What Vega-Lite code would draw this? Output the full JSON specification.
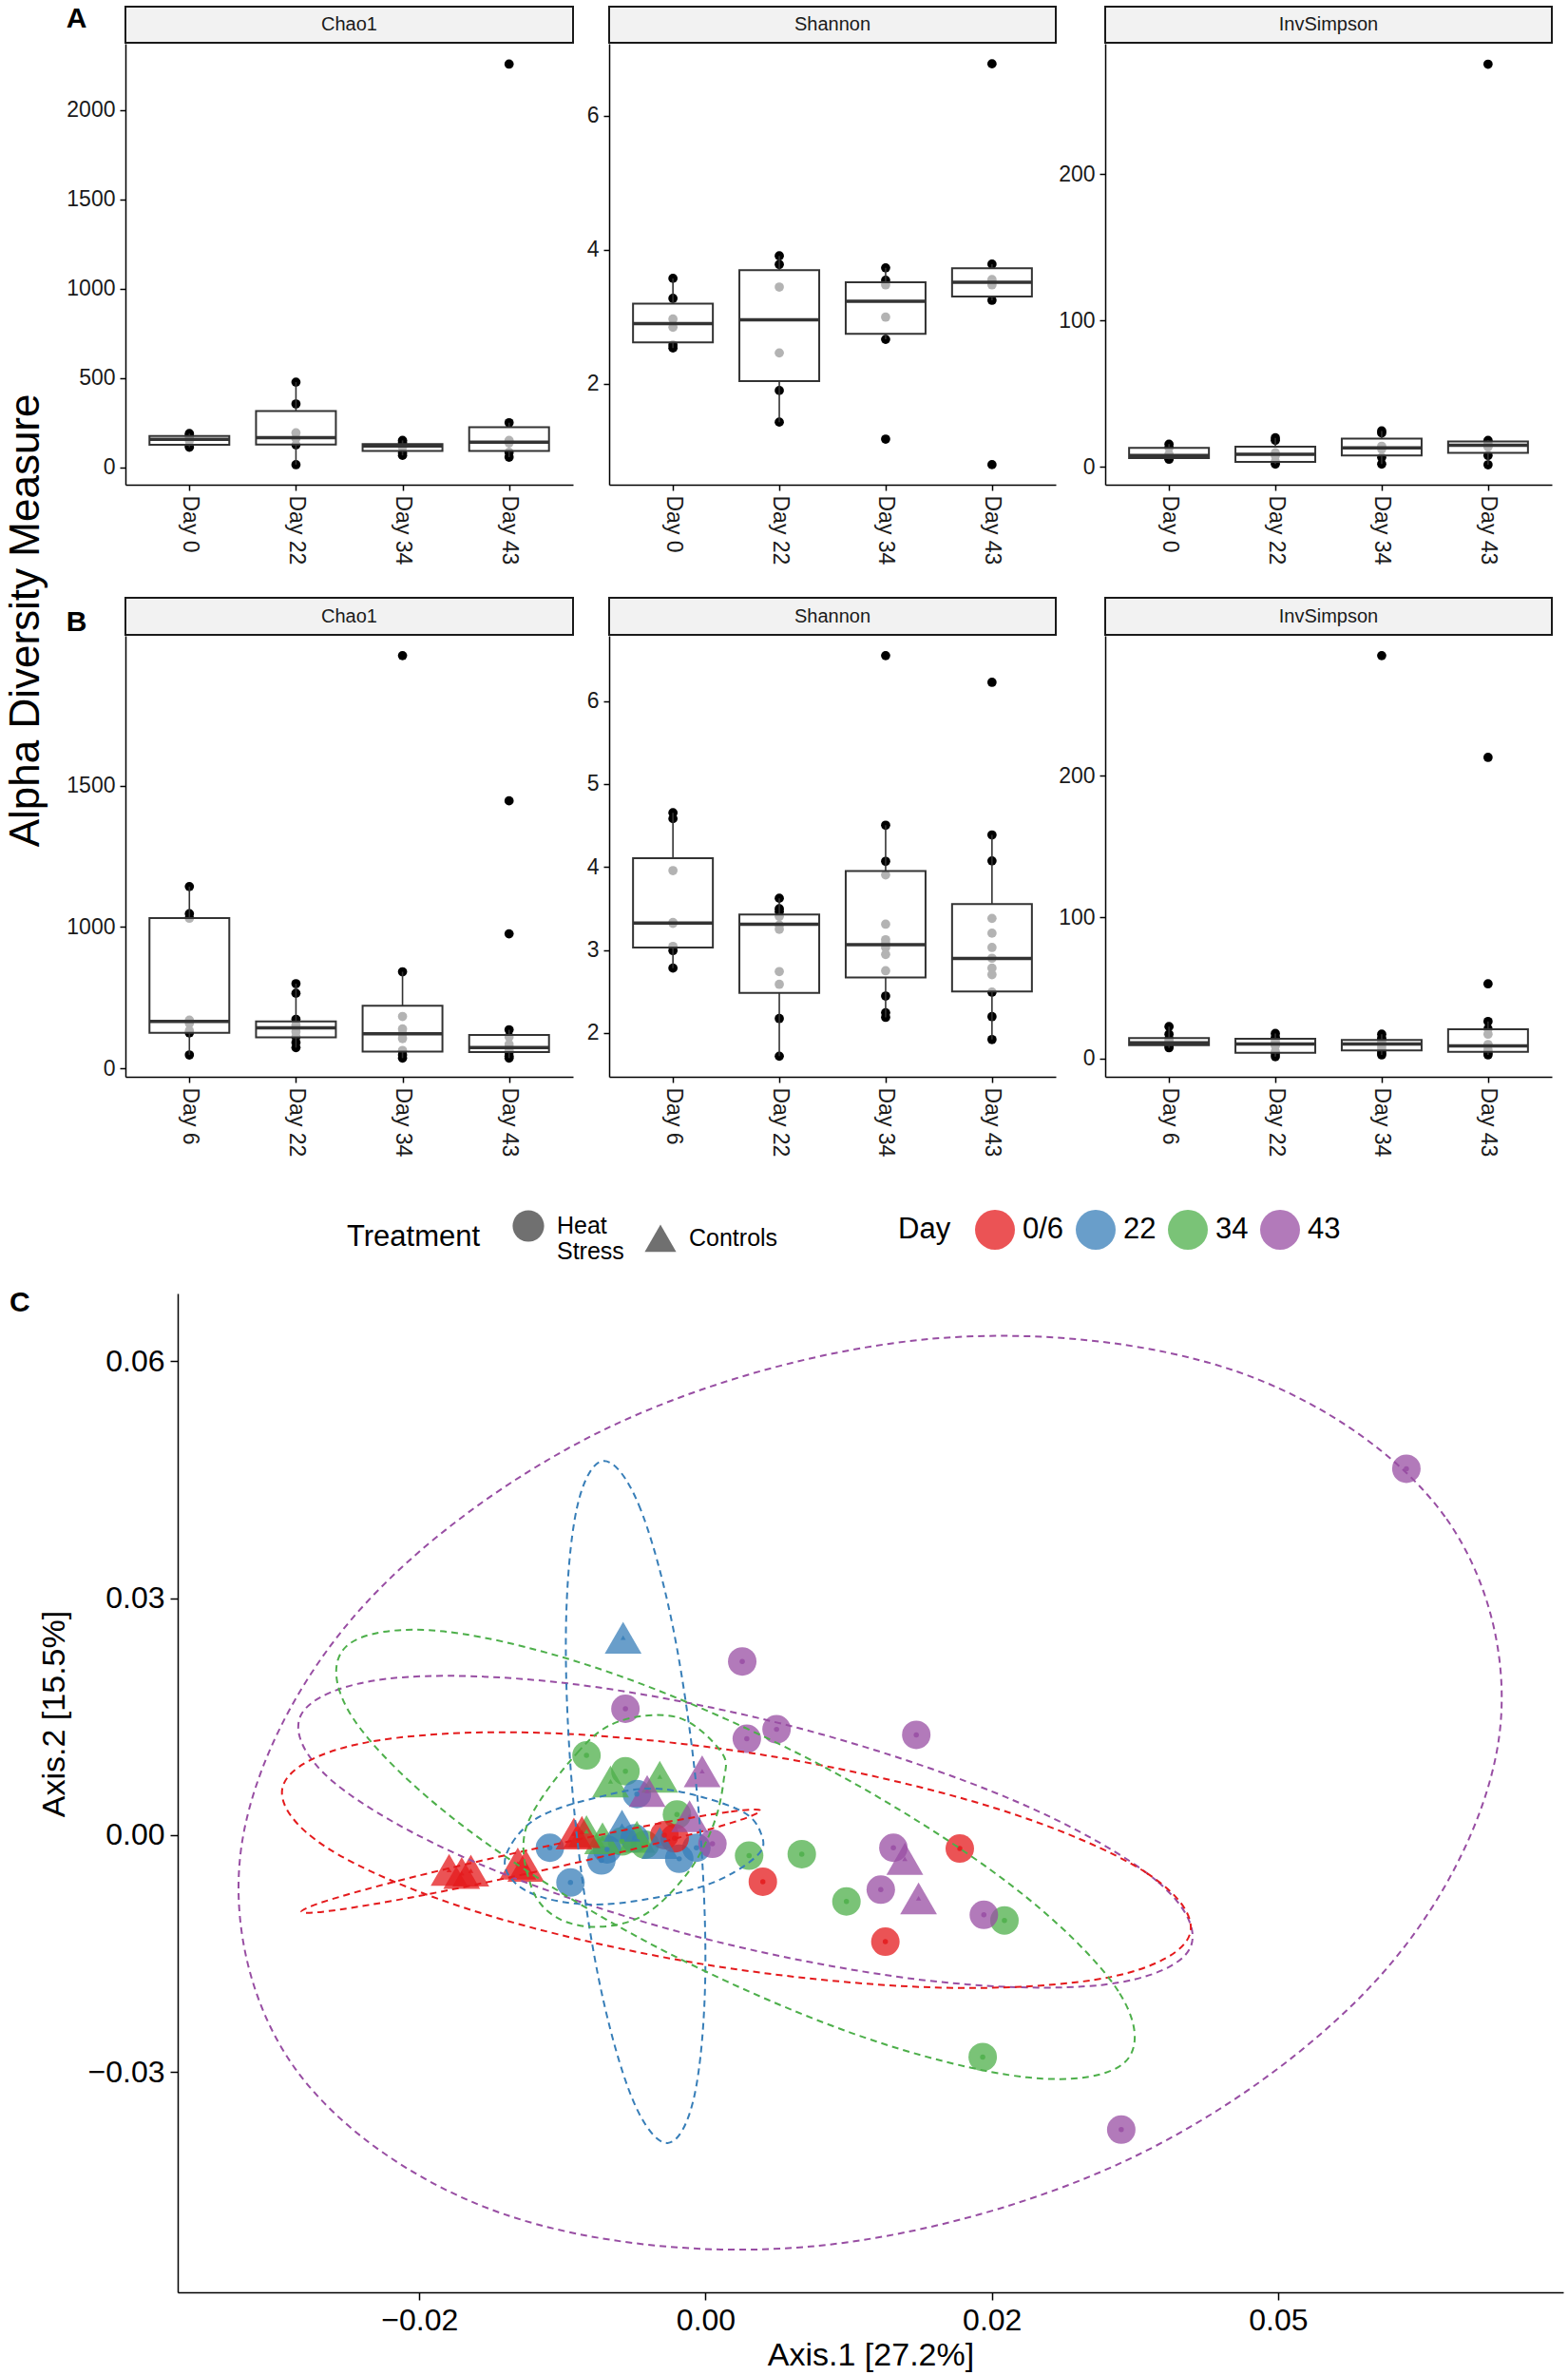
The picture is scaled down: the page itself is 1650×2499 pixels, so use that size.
{
"$schema": "https://vega.github.io/schema/vega-lite/v6.json",
"background": "white",
"padding": 5,
"config": {
  "font": "Liberation Sans",
  "view": {"stroke": null},
  "axis": {"labelFont": "Liberation Sans", "titleFont": "Liberation Sans", "labelColor": "#1a1a1a", "titleColor": "#000", "domainColor": "#000", "tickColor": "#000", "domainWidth": 1.5, "tickWidth": 1.5, "grid": false, "labelFontSize": 23, "titleFontWeight": "normal"},
  "legend": {"labelFont": "Liberation Sans", "titleFont": "Liberation Sans", "labelColor": "#000", "titleColor": "#000", "titleFontWeight": "normal"},
  "title": {"font": "Liberation Sans", "color": "#000"}
},
"datasets": {
  "pts": [
    {"g":"A-Chao1","day":"Day 0","value":113},{"g":"A-Chao1","day":"Day 0","value":122},{"g":"A-Chao1","day":"Day 0","value":150},{"g":"A-Chao1","day":"Day 0","value":162},{"g":"A-Chao1","day":"Day 0","value":178},{"g":"A-Chao1","day":"Day 0","value":189},
    {"g":"A-Chao1","day":"Day 22","value":15},{"g":"A-Chao1","day":"Day 22","value":126},{"g":"A-Chao1","day":"Day 22","value":162},{"g":"A-Chao1","day":"Day 22","value":193},{"g":"A-Chao1","day":"Day 22","value":355},{"g":"A-Chao1","day":"Day 22","value":477},
    {"g":"A-Chao1","day":"Day 34","value":67},{"g":"A-Chao1","day":"Day 34","value":80},{"g":"A-Chao1","day":"Day 34","value":112},{"g":"A-Chao1","day":"Day 34","value":125},{"g":"A-Chao1","day":"Day 34","value":140},{"g":"A-Chao1","day":"Day 34","value":151},
    {"g":"A-Chao1","day":"Day 43","value":57},{"g":"A-Chao1","day":"Day 43","value":84},{"g":"A-Chao1","day":"Day 43","value":137},{"g":"A-Chao1","day":"Day 43","value":151},{"g":"A-Chao1","day":"Day 43","value":250},{"g":"A-Chao1","day":"Day 43","value":2257},
    {"g":"A-Shannon","day":"Day 0","value":2.533},{"g":"A-Shannon","day":"Day 0","value":2.578},{"g":"A-Shannon","day":"Day 0","value":2.842},{"g":"A-Shannon","day":"Day 0","value":2.965},{"g":"A-Shannon","day":"Day 0","value":3.273},{"g":"A-Shannon","day":"Day 0","value":3.571},
    {"g":"A-Shannon","day":"Day 22","value":1.428},{"g":"A-Shannon","day":"Day 22","value":1.899},{"g":"A-Shannon","day":"Day 22","value":2.46},{"g":"A-Shannon","day":"Day 22","value":3.442},{"g":"A-Shannon","day":"Day 22","value":3.778},{"g":"A-Shannon","day":"Day 22","value":3.907},
    {"g":"A-Shannon","day":"Day 34","value":1.175},{"g":"A-Shannon","day":"Day 34","value":2.662},{"g":"A-Shannon","day":"Day 34","value":2.993},{"g":"A-Shannon","day":"Day 34","value":3.475},{"g":"A-Shannon","day":"Day 34","value":3.543},{"g":"A-Shannon","day":"Day 34","value":3.728},
    {"g":"A-Shannon","day":"Day 43","value":0.794},{"g":"A-Shannon","day":"Day 43","value":3.245},{"g":"A-Shannon","day":"Day 43","value":3.475},{"g":"A-Shannon","day":"Day 43","value":3.554},{"g":"A-Shannon","day":"Day 43","value":3.784},{"g":"A-Shannon","day":"Day 43","value":6.77},
    {"g":"A-InvSimpson","day":"Day 0","value":5.1},{"g":"A-InvSimpson","day":"Day 0","value":5.6},{"g":"A-InvSimpson","day":"Day 0","value":7.2},{"g":"A-InvSimpson","day":"Day 0","value":8.5},{"g":"A-InvSimpson","day":"Day 0","value":13},{"g":"A-InvSimpson","day":"Day 0","value":15.4},
    {"g":"A-InvSimpson","day":"Day 22","value":1.8},{"g":"A-InvSimpson","day":"Day 22","value":3.5},{"g":"A-InvSimpson","day":"Day 22","value":7.5},{"g":"A-InvSimpson","day":"Day 22","value":9.5},{"g":"A-InvSimpson","day":"Day 22","value":18},{"g":"A-InvSimpson","day":"Day 22","value":19.7},
    {"g":"A-InvSimpson","day":"Day 34","value":1.8},{"g":"A-InvSimpson","day":"Day 34","value":6.4},{"g":"A-InvSimpson","day":"Day 34","value":12},{"g":"A-InvSimpson","day":"Day 34","value":14},{"g":"A-InvSimpson","day":"Day 34","value":23},{"g":"A-InvSimpson","day":"Day 34","value":24.4},
    {"g":"A-InvSimpson","day":"Day 43","value":1.3},{"g":"A-InvSimpson","day":"Day 43","value":7.7},{"g":"A-InvSimpson","day":"Day 43","value":13.5},{"g":"A-InvSimpson","day":"Day 43","value":15.7},{"g":"A-InvSimpson","day":"Day 43","value":18},{"g":"A-InvSimpson","day":"Day 43","value":275},
    {"g":"B-Chao1","day":"Day 6","value":548},{"g":"B-Chao1","day":"Day 6","value":626},{"g":"B-Chao1","day":"Day 6","value":633},{"g":"B-Chao1","day":"Day 6","value":660},{"g":"B-Chao1","day":"Day 6","value":671},{"g":"B-Chao1","day":"Day 6","value":1031},{"g":"B-Chao1","day":"Day 6","value":1047},{"g":"B-Chao1","day":"Day 6","value":1143},
    {"g":"B-Chao1","day":"Day 22","value":574},{"g":"B-Chao1","day":"Day 22","value":592},{"g":"B-Chao1","day":"Day 22","value":612},{"g":"B-Chao1","day":"Day 22","value":630},{"g":"B-Chao1","day":"Day 22","value":645},{"g":"B-Chao1","day":"Day 22","value":654},{"g":"B-Chao1","day":"Day 22","value":674},{"g":"B-Chao1","day":"Day 22","value":766},{"g":"B-Chao1","day":"Day 22","value":800},
    {"g":"B-Chao1","day":"Day 34","value":537},{"g":"B-Chao1","day":"Day 34","value":548},{"g":"B-Chao1","day":"Day 34","value":564},{"g":"B-Chao1","day":"Day 34","value":606},{"g":"B-Chao1","day":"Day 34","value":623},{"g":"B-Chao1","day":"Day 34","value":640},{"g":"B-Chao1","day":"Day 34","value":684},{"g":"B-Chao1","day":"Day 34","value":842},{"g":"B-Chao1","day":"Day 34","value":1959},
    {"g":"B-Chao1","day":"Day 43","value":537},{"g":"B-Chao1","day":"Day 43","value":544},{"g":"B-Chao1","day":"Day 43","value":558},{"g":"B-Chao1","day":"Day 43","value":564},{"g":"B-Chao1","day":"Day 43","value":574},{"g":"B-Chao1","day":"Day 43","value":585},{"g":"B-Chao1","day":"Day 43","value":612},{"g":"B-Chao1","day":"Day 43","value":637},{"g":"B-Chao1","day":"Day 43","value":976},{"g":"B-Chao1","day":"Day 43","value":1446},
    {"g":"B-Shannon","day":"Day 6","value":2.781},{"g":"B-Shannon","day":"Day 6","value":2.992},{"g":"B-Shannon","day":"Day 6","value":3.043},{"g":"B-Shannon","day":"Day 6","value":3.32},{"g":"B-Shannon","day":"Day 6","value":3.33},{"g":"B-Shannon","day":"Day 6","value":3.956},{"g":"B-Shannon","day":"Day 6","value":4.582},{"g":"B-Shannon","day":"Day 6","value":4.653},
    {"g":"B-Shannon","day":"Day 22","value":1.719},{"g":"B-Shannon","day":"Day 22","value":2.173},{"g":"B-Shannon","day":"Day 22","value":2.585},{"g":"B-Shannon","day":"Day 22","value":2.739},{"g":"B-Shannon","day":"Day 22","value":3.249},{"g":"B-Shannon","day":"Day 22","value":3.3},{"g":"B-Shannon","day":"Day 22","value":3.404},{"g":"B-Shannon","day":"Day 22","value":3.46},{"g":"B-Shannon","day":"Day 22","value":3.497},{"g":"B-Shannon","day":"Day 22","value":3.623},
    {"g":"B-Shannon","day":"Day 34","value":2.187},{"g":"B-Shannon","day":"Day 34","value":2.243},{"g":"B-Shannon","day":"Day 34","value":2.444},{"g":"B-Shannon","day":"Day 34","value":2.749},{"g":"B-Shannon","day":"Day 34","value":2.945},{"g":"B-Shannon","day":"Day 34","value":3.029},{"g":"B-Shannon","day":"Day 34","value":3.08},{"g":"B-Shannon","day":"Day 34","value":3.123},{"g":"B-Shannon","day":"Day 34","value":3.31},{"g":"B-Shannon","day":"Day 34","value":3.904},{"g":"B-Shannon","day":"Day 34","value":4.068},{"g":"B-Shannon","day":"Day 34","value":4.503},{"g":"B-Shannon","day":"Day 34","value":6.547},
    {"g":"B-Shannon","day":"Day 43","value":1.92},{"g":"B-Shannon","day":"Day 43","value":2.196},{"g":"B-Shannon","day":"Day 43","value":2.491},{"g":"B-Shannon","day":"Day 43","value":2.702},{"g":"B-Shannon","day":"Day 43","value":2.781},{"g":"B-Shannon","day":"Day 43","value":2.9},{"g":"B-Shannon","day":"Day 43","value":3.029},{"g":"B-Shannon","day":"Day 43","value":3.202},{"g":"B-Shannon","day":"Day 43","value":3.38},{"g":"B-Shannon","day":"Day 43","value":4.073},{"g":"B-Shannon","day":"Day 43","value":4.386},{"g":"B-Shannon","day":"Day 43","value":6.225},
    {"g":"B-InvSimpson","day":"Day 6","value":7.7},{"g":"B-InvSimpson","day":"Day 6","value":9},{"g":"B-InvSimpson","day":"Day 6","value":10.5},{"g":"B-InvSimpson","day":"Day 6","value":11.5},{"g":"B-InvSimpson","day":"Day 6","value":12},{"g":"B-InvSimpson","day":"Day 6","value":14},{"g":"B-InvSimpson","day":"Day 6","value":17.3},{"g":"B-InvSimpson","day":"Day 6","value":22.7},
    {"g":"B-InvSimpson","day":"Day 22","value":1.4},{"g":"B-InvSimpson","day":"Day 22","value":3.5},{"g":"B-InvSimpson","day":"Day 22","value":5},{"g":"B-InvSimpson","day":"Day 22","value":9},{"g":"B-InvSimpson","day":"Day 22","value":10.4},{"g":"B-InvSimpson","day":"Day 22","value":12},{"g":"B-InvSimpson","day":"Day 22","value":14},{"g":"B-InvSimpson","day":"Day 22","value":15},{"g":"B-InvSimpson","day":"Day 22","value":17.8},
    {"g":"B-InvSimpson","day":"Day 34","value":2.7},{"g":"B-InvSimpson","day":"Day 34","value":4},{"g":"B-InvSimpson","day":"Day 34","value":5.8},{"g":"B-InvSimpson","day":"Day 34","value":8},{"g":"B-InvSimpson","day":"Day 34","value":10.4},{"g":"B-InvSimpson","day":"Day 34","value":11},{"g":"B-InvSimpson","day":"Day 34","value":13},{"g":"B-InvSimpson","day":"Day 34","value":14.5},{"g":"B-InvSimpson","day":"Day 34","value":17.3},{"g":"B-InvSimpson","day":"Day 34","value":285},
    {"g":"B-InvSimpson","day":"Day 43","value":2.7},{"g":"B-InvSimpson","day":"Day 43","value":4},{"g":"B-InvSimpson","day":"Day 43","value":6},{"g":"B-InvSimpson","day":"Day 43","value":9},{"g":"B-InvSimpson","day":"Day 43","value":10},{"g":"B-InvSimpson","day":"Day 43","value":17.3},{"g":"B-InvSimpson","day":"Day 43","value":21},{"g":"B-InvSimpson","day":"Day 43","value":26.3},{"g":"B-InvSimpson","day":"Day 43","value":52.9},{"g":"B-InvSimpson","day":"Day 43","value":213}
  ],
  "box": [
    {"g":"A-Chao1","day":"Day 0","lower":113,"q1":126,"median":157,"q3":176,"upper":189},
    {"g":"A-Chao1","day":"Day 22","lower":15,"q1":128,"median":166,"q3":315,"upper":477},
    {"g":"A-Chao1","day":"Day 34","lower":67,"q1":92,"median":120,"q3":130,"upper":151},
    {"g":"A-Chao1","day":"Day 43","lower":57,"q1":92,"median":141,"q3":225,"upper":250},
    {"g":"A-Shannon","day":"Day 0","lower":2.533,"q1":2.617,"median":2.898,"q3":3.195,"upper":3.571},
    {"g":"A-Shannon","day":"Day 22","lower":1.428,"q1":2.039,"median":2.954,"q3":3.694,"upper":3.907},
    {"g":"A-Shannon","day":"Day 34","lower":2.662,"q1":2.746,"median":3.229,"q3":3.515,"upper":3.728},
    {"g":"A-Shannon","day":"Day 43","lower":3.245,"q1":3.3,"median":3.515,"q3":3.722,"upper":3.784},
    {"g":"A-InvSimpson","day":"Day 0","lower":5.1,"q1":5.9,"median":7.7,"q3":12.8,"upper":15.4},
    {"g":"A-InvSimpson","day":"Day 22","lower":1.8,"q1":3.3,"median":8.5,"q3":13.6,"upper":19.7},
    {"g":"A-InvSimpson","day":"Day 34","lower":1.8,"q1":7.7,"median":12.8,"q3":19.2,"upper":24.4},
    {"g":"A-InvSimpson","day":"Day 43","lower":1.3,"q1":9.5,"median":14.6,"q3":17.2,"upper":18},
    {"g":"B-Chao1","day":"Day 6","lower":548,"q1":626,"median":667,"q3":1032,"upper":1143},
    {"g":"B-Chao1","day":"Day 22","lower":574,"q1":610,"median":644,"q3":667,"upper":800},
    {"g":"B-Chao1","day":"Day 34","lower":537,"q1":560,"median":623,"q3":722,"upper":842},
    {"g":"B-Chao1","day":"Day 43","lower":537,"q1":558,"median":574,"q3":619,"upper":637},
    {"g":"B-Shannon","day":"Day 6","lower":2.781,"q1":3.029,"median":3.324,"q3":4.105,"upper":4.653},
    {"g":"B-Shannon","day":"Day 22","lower":1.719,"q1":2.482,"median":3.31,"q3":3.427,"upper":3.623},
    {"g":"B-Shannon","day":"Day 34","lower":2.187,"q1":2.669,"median":3.062,"q3":3.951,"upper":4.503},
    {"g":"B-Shannon","day":"Day 43","lower":1.92,"q1":2.5,"median":2.898,"q3":3.553,"upper":4.386},
    {"g":"B-InvSimpson","day":"Day 6","lower":7.7,"q1":9.6,"median":11.2,"q3":14.5,"upper":22.7},
    {"g":"B-InvSimpson","day":"Day 22","lower":1.4,"q1":4.1,"median":10.4,"q3":14,"upper":17.8},
    {"g":"B-InvSimpson","day":"Day 34","lower":2.7,"q1":5.8,"median":10.4,"q3":13.2,"upper":17.3},
    {"g":"B-InvSimpson","day":"Day 43","lower":2.7,"q1":4.9,"median":9,"q3":20.8,"upper":26.3}
  ],
  "pc": [
    {"x":-0.0104,"y":0.0101,"day":"34","trt":"Heat Stress"},{"x":-0.0070,"y":0.0081,"day":"34","trt":"Heat Stress"},{"x":-0.0025,"y":0.0026,"day":"34","trt":"Heat Stress"},{"x":0.0038,"y":-0.0026,"day":"34","trt":"Heat Stress"},{"x":0.0084,"y":-0.0024,"day":"34","trt":"Heat Stress"},{"x":0.0123,"y":-0.0084,"day":"34","trt":"Heat Stress"},{"x":0.0261,"y":-0.0108,"day":"34","trt":"Heat Stress"},{"x":0.0242,"y":-0.0281,"day":"34","trt":"Heat Stress"},{"x":-0.0053,"y":-0.0012,"day":"34","trt":"Heat Stress"},{"x":-0.0073,"y":-0.0008,"day":"34","trt":"Heat Stress"},
    {"x":-0.0083,"y":0.0068,"day":"34","trt":"Controls"},{"x":-0.0040,"y":0.0074,"day":"34","trt":"Controls"},{"x":-0.0104,"y":0.0005,"day":"34","trt":"Controls"},{"x":-0.0090,"y":-0.0004,"day":"34","trt":"Controls"},{"x":-0.0060,"y":-0.0002,"day":"34","trt":"Controls"},
    {"x":-0.0136,"y":-0.0016,"day":"22","trt":"Heat Stress"},{"x":-0.0086,"y":-0.0018,"day":"22","trt":"Heat Stress"},{"x":-0.0091,"y":-0.0032,"day":"22","trt":"Heat Stress"},{"x":-0.0062,"y":-0.0004,"day":"22","trt":"Heat Stress"},{"x":-0.0023,"y":-0.0030,"day":"22","trt":"Heat Stress"},{"x":-0.0008,"y":-0.0016,"day":"22","trt":"Heat Stress"},{"x":-0.0118,"y":-0.0060,"day":"22","trt":"Heat Stress"},{"x":-0.0060,"y":0.0052,"day":"22","trt":"Heat Stress"},
    {"x":-0.0072,"y":0.0250,"day":"22","trt":"Controls"},{"x":-0.0073,"y":0.0012,"day":"22","trt":"Controls"},{"x":-0.0040,"y":-0.0010,"day":"22","trt":"Controls"},
    {"x":-0.0036,"y":0.0000,"day":"0/6","trt":"Heat Stress"},{"x":-0.0027,"y":-0.0004,"day":"0/6","trt":"Heat Stress"},{"x":0.0050,"y":-0.0059,"day":"0/6","trt":"Heat Stress"},{"x":0.0222,"y":-0.0017,"day":"0/6","trt":"Heat Stress"},{"x":0.0157,"y":-0.0135,"day":"0/6","trt":"Heat Stress"},
    {"x":-0.0224,"y":-0.0044,"day":"0/6","trt":"Controls"},{"x":-0.0213,"y":-0.0048,"day":"0/6","trt":"Controls"},{"x":-0.0205,"y":-0.0045,"day":"0/6","trt":"Controls"},{"x":-0.0164,"y":-0.0036,"day":"0/6","trt":"Controls"},{"x":-0.0157,"y":-0.0039,"day":"0/6","trt":"Controls"},{"x":-0.0115,"y":0.0002,"day":"0/6","trt":"Controls"},{"x":-0.0108,"y":0.0004,"day":"0/6","trt":"Controls"},
    {"x":0.0612,"y":0.0464,"day":"43","trt":"Heat Stress"},{"x":0.0032,"y":0.0220,"day":"43","trt":"Heat Stress"},{"x":-0.0070,"y":0.0160,"day":"43","trt":"Heat Stress"},{"x":0.0062,"y":0.0134,"day":"43","trt":"Heat Stress"},{"x":0.0036,"y":0.0122,"day":"43","trt":"Heat Stress"},{"x":0.0184,"y":0.0127,"day":"43","trt":"Heat Stress"},{"x":0.0164,"y":-0.0016,"day":"43","trt":"Heat Stress"},{"x":0.0153,"y":-0.0069,"day":"43","trt":"Heat Stress"},{"x":0.0243,"y":-0.0101,"day":"43","trt":"Heat Stress"},{"x":0.0363,"y":-0.0373,"day":"43","trt":"Heat Stress"},{"x":0.0006,"y":-0.0011,"day":"43","trt":"Heat Stress"},
    {"x":-0.0003,"y":0.0081,"day":"43","trt":"Controls"},{"x":-0.0051,"y":0.0056,"day":"43","trt":"Controls"},{"x":-0.0014,"y":0.0024,"day":"43","trt":"Controls"},{"x":0.0174,"y":-0.0030,"day":"43","trt":"Controls"},{"x":0.0186,"y":-0.0080,"day":"43","trt":"Controls"}
  ],
  "ell": [
    {"eid":"p1","day":"43","t":0,"x":0.06931,"y":0.01255},{"eid":"p1","day":"43","t":1,"x":0.06457,"y":0.04033},{"eid":"p1","day":"43","t":2,"x":0.04637,"y":0.05873},{"eid":"p1","day":"43","t":3,"x":0.0196,"y":0.06284},{"eid":"p1","day":"43","t":4,"x":-0.00857,"y":0.05155},{"eid":"p1","day":"43","t":5,"x":-0.03059,"y":0.02789},{"eid":"p1","day":"43","t":6,"x":-0.04057,"y":-0.00181},{"eid":"p1","day":"43","t":7,"x":-0.03583,"y":-0.02959},{"eid":"p1","day":"43","t":8,"x":-0.01763,"y":-0.04799},{"eid":"p1","day":"43","t":9,"x":0.00914,"y":-0.0521},{"eid":"p1","day":"43","t":10,"x":0.03731,"y":-0.04081},{"eid":"p1","day":"43","t":11,"x":0.05933,"y":-0.01715},
    {"eid":"p2","day":"43","t":0,"x":0.04228,"y":-0.01439},{"eid":"p2","day":"43","t":1,"x":0.03944,"y":-0.00585},{"eid":"p2","day":"43","t":2,"x":0.02697,"y":0.00436},{"eid":"p2","day":"43","t":3,"x":0.0082,"y":0.01353},{"eid":"p2","day":"43","t":4,"x":-0.01183,"y":0.01918},{"eid":"p2","day":"43","t":5,"x":-0.02776,"y":0.01981},{"eid":"p2","day":"43","t":6,"x":-0.03532,"y":0.01525},{"eid":"p2","day":"43","t":7,"x":-0.03248,"y":0.00671},{"eid":"p2","day":"43","t":8,"x":-0.02001,"y":-0.0035},{"eid":"p2","day":"43","t":9,"x":-0.00124,"y":-0.01267},{"eid":"p2","day":"43","t":10,"x":0.01879,"y":-0.01832},{"eid":"p2","day":"43","t":11,"x":0.03472,"y":-0.01895},
    {"eid":"r1","day":"0/6","t":0,"x":0.04228,"y":-0.01259},{"eid":"r1","day":"0/6","t":1,"x":0.03846,"y":-0.00474},{"eid":"r1","day":"0/6","t":2,"x":0.02505,"y":0.00353},{"eid":"r1","day":"0/6","t":3,"x":0.00565,"y":0.01001},{"eid":"r1","day":"0/6","t":4,"x":-0.01455,"y":0.01297},{"eid":"r1","day":"0/6","t":5,"x":-0.03012,"y":0.0116},{"eid":"r1","day":"0/6","t":6,"x":-0.0369,"y":0.00627},{"eid":"r1","day":"0/6","t":7,"x":-0.03308,"y":-0.00158},{"eid":"r1","day":"0/6","t":8,"x":-0.01967,"y":-0.00985},{"eid":"r1","day":"0/6","t":9,"x":-0.00027,"y":-0.01633},{"eid":"r1","day":"0/6","t":10,"x":0.01993,"y":-0.01929},{"eid":"r1","day":"0/6","t":11,"x":0.0355,"y":-0.01792},
    {"eid":"r2","day":"0/6","t":0,"x":0.0048,"y":0.0031},{"eid":"r2","day":"0/6","t":1,"x":0.00201,"y":0.00294},{"eid":"r2","day":"0/6","t":2,"x":-0.0054,"y":0.00112},{"eid":"r2","day":"0/6","t":3,"x":-0.01546,"y":-0.00189},{"eid":"r2","day":"0/6","t":4,"x":-0.02546,"y":-0.00528},{"eid":"r2","day":"0/6","t":5,"x":-0.03271,"y":-0.00814},{"eid":"r2","day":"0/6","t":6,"x":-0.0353,"y":-0.0097},{"eid":"r2","day":"0/6","t":7,"x":-0.03251,"y":-0.00954},{"eid":"r2","day":"0/6","t":8,"x":-0.0251,"y":-0.00772},{"eid":"r2","day":"0/6","t":9,"x":-0.01504,"y":-0.00471},{"eid":"r2","day":"0/6","t":10,"x":-0.00504,"y":-0.00132},{"eid":"r2","day":"0/6","t":11,"x":0.00221,"y":0.00154},
    {"eid":"b2","day":"22","t":0,"x":-0.0089,"y":0.04739},{"eid":"b2","day":"22","t":1,"x":-0.00582,"y":0.04178},{"eid":"b2","day":"22","t":2,"x":-0.00282,"y":0.02611},{"eid":"b2","day":"22","t":3,"x":-0.0007,"y":0.00456},{"eid":"b2","day":"22","t":4,"x":-0.00002,"y":-0.01709},{"eid":"b2","day":"22","t":5,"x":-0.00098,"y":-0.03302},{"eid":"b2","day":"22","t":6,"x":-0.00332,"y":-0.03899},{"eid":"b2","day":"22","t":7,"x":-0.0064,"y":-0.03338},{"eid":"b2","day":"22","t":8,"x":-0.0094,"y":-0.01771},{"eid":"b2","day":"22","t":9,"x":-0.01152,"y":0.00384},{"eid":"b2","day":"22","t":10,"x":-0.0122,"y":0.02549},{"eid":"b2","day":"22","t":11,"x":-0.01124,"y":0.04142},
    {"eid":"b1","day":"22","t":0,"x":-0.01748,"y":-0.00281},{"eid":"b1","day":"22","t":1,"x":-0.01487,"y":0.00202},{"eid":"b1","day":"22","t":2,"x":-0.00932,"y":0.00483},{"eid":"b1","day":"22","t":3,"x":-0.00378,"y":0.00584},{"eid":"b1","day":"22","t":4,"x":0.00288,"y":0.00323},{"eid":"b1","day":"22","t":5,"x":0.00489,"y":0.00001},{"eid":"b1","day":"22","t":6,"x":0.00436,"y":-0.00279},{"eid":"b1","day":"22","t":7,"x":-0.00008,"y":-0.0064},{"eid":"b1","day":"22","t":8,"x":-0.00747,"y":-0.0086},{"eid":"b1","day":"22","t":9,"x":-0.01268,"y":-0.00841},{"eid":"b1","day":"22","t":10,"x":-0.01636,"y":-0.0064},
    {"eid":"g1","day":"34","t":0,"x":0.03662,"y":-0.02875},{"eid":"g1","day":"34","t":1,"x":0.03604,"y":-0.01976},{"eid":"g1","day":"34","t":2,"x":0.02651,"y":-0.00615},{"eid":"g1","day":"34","t":3,"x":0.01057,"y":0.00847},{"eid":"g1","day":"34","t":4,"x":-0.00751,"y":0.02017},{"eid":"g1","day":"34","t":5,"x":-0.02286,"y":0.0258},{"eid":"g1","day":"34","t":6,"x":-0.0314,"y":0.02387},{"eid":"g1","day":"34","t":7,"x":-0.03082,"y":0.01488},{"eid":"g1","day":"34","t":8,"x":-0.02129,"y":0.00127},{"eid":"g1","day":"34","t":9,"x":-0.00535,"y":-0.01335},{"eid":"g1","day":"34","t":10,"x":0.01273,"y":-0.02505},{"eid":"g1","day":"34","t":11,"x":0.02808,"y":-0.03068},
    {"eid":"g2","day":"34","t":0,"x":-0.01561,"y":0.00122},{"eid":"g2","day":"34","t":1,"x":-0.01119,"y":0.01045},{"eid":"g2","day":"34","t":2,"x":-0.00747,"y":0.01445},{"eid":"g2","day":"34","t":3,"x":-0.00232,"y":0.01486},{"eid":"g2","day":"34","t":4,"x":0.00141,"y":0.01045},{"eid":"g2","day":"34","t":5,"x":0.00157,"y":0.00684},{"eid":"g2","day":"34","t":6,"x":0.00066,"y":0.00122},{"eid":"g2","day":"34","t":7,"x":-0.00157,"y":-0.0048},{"eid":"g2","day":"34","t":8,"x":-0.00525,"y":-0.01001},{"eid":"g2","day":"34","t":9,"x":-0.00932,"y":-0.01161},{"eid":"g2","day":"34","t":10,"x":-0.01303,"y":-0.01041},{"eid":"g2","day":"34","t":11,"x":-0.01525,"y":-0.0064}
  ]
},
"concat": [
  {
    "vconcat": [
      {
        "title": {"text": "A", "anchor": "start", "frame": "bounds", "fontSize": 30, "fontWeight": "bold", "baseline": "alphabetic", "offset": -53},
        "hconcat": [
          {
            "hconcat": [
              {"vconcat": [
                {"width": 471, "height": 38, "view": {"fill": "#f2f2f2", "stroke": "#1a1a1a", "strokeWidth": 2}, "data": {"values": [{"label": "Chao1"}]}, "mark": {"type": "text", "fontSize": 20, "color": "#1a1a1a"}, "encoding": {"text": {"field": "label", "type": "nominal"}}},
                {"width": 471, "height": 464, "layer": [
                  {"data": {"name": "pts"}, "transform": [{"filter": "datum.g == 'A-Chao1'"}], "mark": {"type": "circle", "size": 95, "color": "#000", "opacity": 1},
                   "encoding": {"x": {"field": "day", "type": "nominal", "scale": {"type": "point", "padding": 0.6, "domain": ["Day 0", "Day 22", "Day 34", "Day 43"]}, "axis": {"title": null, "labelAngle": 90, "tickSize": 6, "labelPadding": 5}},
                                "y": {"field": "value", "type": "quantitative", "scale": {"domain": [-97, 2371], "nice": false, "zero": false}, "axis": {"title": null, "values": [0, 500, 1000, 1500, 2000], "format": "d", "tickSize": 6, "labelPadding": 5}}}},
                  {"data": {"name": "box"}, "transform": [{"filter": "datum.g == 'A-Chao1'"}], "mark": {"type": "rule", "color": "#333", "strokeWidth": 1.6}, "encoding": {"x": {"field": "day", "type": "nominal"}, "y": {"field": "lower", "type": "quantitative"}, "y2": {"field": "q1"}}},
                  {"data": {"name": "box"}, "transform": [{"filter": "datum.g == 'A-Chao1'"}], "mark": {"type": "rule", "color": "#333", "strokeWidth": 1.6}, "encoding": {"x": {"field": "day", "type": "nominal"}, "y": {"field": "q3", "type": "quantitative"}, "y2": {"field": "upper"}}},
                  {"data": {"name": "box"}, "transform": [{"filter": "datum.g == 'A-Chao1'"}], "mark": {"type": "bar", "width": 84, "fill": "#fff", "fillOpacity": 0.7, "stroke": "#333", "strokeWidth": 2}, "encoding": {"x": {"field": "day", "type": "nominal"}, "y": {"field": "q1", "type": "quantitative"}, "y2": {"field": "q3"}}},
                  {"data": {"name": "box"}, "transform": [{"filter": "datum.g == 'A-Chao1'"}], "mark": {"type": "tick", "size": 84, "thickness": 3.5, "color": "#333", "opacity": 1}, "encoding": {"x": {"field": "day", "type": "nominal"}, "y": {"field": "median", "type": "quantitative"}}}
                ]}
              ], "spacing": 0},
              {"vconcat": [
                {"width": 470, "height": 38, "view": {"fill": "#f2f2f2", "stroke": "#1a1a1a", "strokeWidth": 2}, "data": {"values": [{"label": "Shannon"}]}, "mark": {"type": "text", "fontSize": 20, "color": "#1a1a1a"}, "encoding": {"text": {"field": "label", "type": "nominal"}}},
                {"width": 470, "height": 464, "layer": [
                  {"data": {"name": "pts"}, "transform": [{"filter": "datum.g == 'A-Shannon'"}], "mark": {"type": "circle", "size": 95, "color": "#000", "opacity": 1},
                   "encoding": {"x": {"field": "day", "type": "nominal", "scale": {"type": "point", "padding": 0.6, "domain": ["Day 0", "Day 22", "Day 34", "Day 43"]}, "axis": {"title": null, "labelAngle": 90, "tickSize": 6, "labelPadding": 5}},
                                "y": {"field": "value", "type": "quantitative", "scale": {"domain": [0.495, 7.07], "nice": false, "zero": false}, "axis": {"title": null, "values": [2, 4, 6], "format": "d", "tickSize": 6, "labelPadding": 5}}}},
                  {"data": {"name": "box"}, "transform": [{"filter": "datum.g == 'A-Shannon'"}], "mark": {"type": "rule", "color": "#333", "strokeWidth": 1.6}, "encoding": {"x": {"field": "day", "type": "nominal"}, "y": {"field": "lower", "type": "quantitative"}, "y2": {"field": "q1"}}},
                  {"data": {"name": "box"}, "transform": [{"filter": "datum.g == 'A-Shannon'"}], "mark": {"type": "rule", "color": "#333", "strokeWidth": 1.6}, "encoding": {"x": {"field": "day", "type": "nominal"}, "y": {"field": "q3", "type": "quantitative"}, "y2": {"field": "upper"}}},
                  {"data": {"name": "box"}, "transform": [{"filter": "datum.g == 'A-Shannon'"}], "mark": {"type": "bar", "width": 84, "fill": "#fff", "fillOpacity": 0.7, "stroke": "#333", "strokeWidth": 2}, "encoding": {"x": {"field": "day", "type": "nominal"}, "y": {"field": "q1", "type": "quantitative"}, "y2": {"field": "q3"}}},
                  {"data": {"name": "box"}, "transform": [{"filter": "datum.g == 'A-Shannon'"}], "mark": {"type": "tick", "size": 84, "thickness": 3.5, "color": "#333", "opacity": 1}, "encoding": {"x": {"field": "day", "type": "nominal"}, "y": {"field": "median", "type": "quantitative"}}}
                ]}
              ], "spacing": 0}
            ],
            "spacing": 13
          },
          {"vconcat": [
            {"width": 470, "height": 38, "view": {"fill": "#f2f2f2", "stroke": "#1a1a1a", "strokeWidth": 2}, "data": {"values": [{"label": "InvSimpson"}]}, "mark": {"type": "text", "fontSize": 20, "color": "#1a1a1a"}, "encoding": {"text": {"field": "label", "type": "nominal"}}},
            {"width": 470, "height": 464, "layer": [
              {"data": {"name": "pts"}, "transform": [{"filter": "datum.g == 'A-InvSimpson'"}], "mark": {"type": "circle", "size": 95, "color": "#000", "opacity": 1},
               "encoding": {"x": {"field": "day", "type": "nominal", "scale": {"type": "point", "padding": 0.6, "domain": ["Day 0", "Day 22", "Day 34", "Day 43"]}, "axis": {"title": null, "labelAngle": 90, "tickSize": 6, "labelPadding": 5}},
                            "y": {"field": "value", "type": "quantitative", "scale": {"domain": [-12.3, 289], "nice": false, "zero": false}, "axis": {"title": null, "values": [0, 100, 200], "format": "d", "tickSize": 6, "labelPadding": 5}}}},
              {"data": {"name": "box"}, "transform": [{"filter": "datum.g == 'A-InvSimpson'"}], "mark": {"type": "rule", "color": "#333", "strokeWidth": 1.6}, "encoding": {"x": {"field": "day", "type": "nominal"}, "y": {"field": "lower", "type": "quantitative"}, "y2": {"field": "q1"}}},
              {"data": {"name": "box"}, "transform": [{"filter": "datum.g == 'A-InvSimpson'"}], "mark": {"type": "rule", "color": "#333", "strokeWidth": 1.6}, "encoding": {"x": {"field": "day", "type": "nominal"}, "y": {"field": "q3", "type": "quantitative"}, "y2": {"field": "upper"}}},
              {"data": {"name": "box"}, "transform": [{"filter": "datum.g == 'A-InvSimpson'"}], "mark": {"type": "bar", "width": 84, "fill": "#fff", "fillOpacity": 0.7, "stroke": "#333", "strokeWidth": 2}, "encoding": {"x": {"field": "day", "type": "nominal"}, "y": {"field": "q1", "type": "quantitative"}, "y2": {"field": "q3"}}},
              {"data": {"name": "box"}, "transform": [{"filter": "datum.g == 'A-InvSimpson'"}], "mark": {"type": "tick", "size": 84, "thickness": 3.5, "color": "#333", "opacity": 1}, "encoding": {"x": {"field": "day", "type": "nominal"}, "y": {"field": "median", "type": "quantitative"}}}
            ]}
          ], "spacing": 0}
        ],
        "spacing": 1
      },
      {
        "title": {"text": "B", "anchor": "start", "frame": "bounds", "fontSize": 30, "fontWeight": "bold", "baseline": "alphabetic", "offset": -66},
        "hconcat": [
          {
            "hconcat": [
              {"vconcat": [
                {"width": 471, "height": 39, "view": {"fill": "#f2f2f2", "stroke": "#1a1a1a", "strokeWidth": 2}, "data": {"values": [{"label": "Chao1"}]}, "mark": {"type": "text", "fontSize": 20, "color": "#1a1a1a"}, "encoding": {"text": {"field": "label", "type": "nominal"}}},
                {"width": 471, "height": 464, "layer": [
                  {"data": {"name": "pts"}, "transform": [{"filter": "datum.g == 'B-Chao1'"}], "mark": {"type": "circle", "size": 95, "color": "#000", "opacity": 1},
                   "encoding": {"x": {"field": "day", "type": "nominal", "scale": {"type": "point", "padding": 0.6, "domain": ["Day 6", "Day 22", "Day 34", "Day 43"]}, "axis": {"title": null, "labelAngle": 90, "tickSize": 6, "labelPadding": 5}},
                                "y": {"field": "value", "type": "quantitative", "scale": {"domain": [471, 2029], "nice": false, "zero": false}, "axis": {"title": null, "values": [500, 1000, 1500], "format": "d", "labelExpr": "datum.value == 500 ? '0' : datum.label", "tickSize": 6, "labelPadding": 5}}}},
                  {"data": {"name": "box"}, "transform": [{"filter": "datum.g == 'B-Chao1'"}], "mark": {"type": "rule", "color": "#333", "strokeWidth": 1.6}, "encoding": {"x": {"field": "day", "type": "nominal"}, "y": {"field": "lower", "type": "quantitative"}, "y2": {"field": "q1"}}},
                  {"data": {"name": "box"}, "transform": [{"filter": "datum.g == 'B-Chao1'"}], "mark": {"type": "rule", "color": "#333", "strokeWidth": 1.6}, "encoding": {"x": {"field": "day", "type": "nominal"}, "y": {"field": "q3", "type": "quantitative"}, "y2": {"field": "upper"}}},
                  {"data": {"name": "box"}, "transform": [{"filter": "datum.g == 'B-Chao1'"}], "mark": {"type": "bar", "width": 84, "fill": "#fff", "fillOpacity": 0.7, "stroke": "#333", "strokeWidth": 2}, "encoding": {"x": {"field": "day", "type": "nominal"}, "y": {"field": "q1", "type": "quantitative"}, "y2": {"field": "q3"}}},
                  {"data": {"name": "box"}, "transform": [{"filter": "datum.g == 'B-Chao1'"}], "mark": {"type": "tick", "size": 84, "thickness": 3.5, "color": "#333", "opacity": 1}, "encoding": {"x": {"field": "day", "type": "nominal"}, "y": {"field": "median", "type": "quantitative"}}}
                ]}
              ], "spacing": 0},
              {"vconcat": [
                {"width": 470, "height": 39, "view": {"fill": "#f2f2f2", "stroke": "#1a1a1a", "strokeWidth": 2}, "data": {"values": [{"label": "Shannon"}]}, "mark": {"type": "text", "fontSize": 20, "color": "#1a1a1a"}, "encoding": {"text": {"field": "label", "type": "nominal"}}},
                {"width": 470, "height": 464, "layer": [
                  {"data": {"name": "pts"}, "transform": [{"filter": "datum.g == 'B-Shannon'"}], "mark": {"type": "circle", "size": 95, "color": "#000", "opacity": 1},
                   "encoding": {"x": {"field": "day", "type": "nominal", "scale": {"type": "point", "padding": 0.6, "domain": ["Day 6", "Day 22", "Day 34", "Day 43"]}, "axis": {"title": null, "labelAngle": 90, "tickSize": 6, "labelPadding": 5}},
                                "y": {"field": "value", "type": "quantitative", "scale": {"domain": [1.471, 6.786], "nice": false, "zero": false}, "axis": {"title": null, "values": [2, 3, 4, 5, 6], "format": "d", "tickSize": 6, "labelPadding": 5}}}},
                  {"data": {"name": "box"}, "transform": [{"filter": "datum.g == 'B-Shannon'"}], "mark": {"type": "rule", "color": "#333", "strokeWidth": 1.6}, "encoding": {"x": {"field": "day", "type": "nominal"}, "y": {"field": "lower", "type": "quantitative"}, "y2": {"field": "q1"}}},
                  {"data": {"name": "box"}, "transform": [{"filter": "datum.g == 'B-Shannon'"}], "mark": {"type": "rule", "color": "#333", "strokeWidth": 1.6}, "encoding": {"x": {"field": "day", "type": "nominal"}, "y": {"field": "q3", "type": "quantitative"}, "y2": {"field": "upper"}}},
                  {"data": {"name": "box"}, "transform": [{"filter": "datum.g == 'B-Shannon'"}], "mark": {"type": "bar", "width": 84, "fill": "#fff", "fillOpacity": 0.7, "stroke": "#333", "strokeWidth": 2}, "encoding": {"x": {"field": "day", "type": "nominal"}, "y": {"field": "q1", "type": "quantitative"}, "y2": {"field": "q3"}}},
                  {"data": {"name": "box"}, "transform": [{"filter": "datum.g == 'B-Shannon'"}], "mark": {"type": "tick", "size": 84, "thickness": 3.5, "color": "#333", "opacity": 1}, "encoding": {"x": {"field": "day", "type": "nominal"}, "y": {"field": "median", "type": "quantitative"}}}
                ]}
              ], "spacing": 0}
            ],
            "spacing": 13
          },
          {"vconcat": [
            {"width": 470, "height": 39, "view": {"fill": "#f2f2f2", "stroke": "#1a1a1a", "strokeWidth": 2}, "data": {"values": [{"label": "InvSimpson"}]}, "mark": {"type": "text", "fontSize": 20, "color": "#1a1a1a"}, "encoding": {"text": {"field": "label", "type": "nominal"}}},
            {"width": 470, "height": 464, "layer": [
              {"data": {"name": "pts"}, "transform": [{"filter": "datum.g == 'B-InvSimpson'"}], "mark": {"type": "circle", "size": 95, "color": "#000", "opacity": 1},
               "encoding": {"x": {"field": "day", "type": "nominal", "scale": {"type": "point", "padding": 0.6, "domain": ["Day 6", "Day 22", "Day 34", "Day 43"]}, "axis": {"title": null, "labelAngle": 90, "tickSize": 6, "labelPadding": 5}},
                            "y": {"field": "value", "type": "quantitative", "scale": {"domain": [-12.8, 299], "nice": false, "zero": false}, "axis": {"title": null, "values": [0, 100, 200], "format": "d", "tickSize": 6, "labelPadding": 5}}}},
              {"data": {"name": "box"}, "transform": [{"filter": "datum.g == 'B-InvSimpson'"}], "mark": {"type": "rule", "color": "#333", "strokeWidth": 1.6}, "encoding": {"x": {"field": "day", "type": "nominal"}, "y": {"field": "lower", "type": "quantitative"}, "y2": {"field": "q1"}}},
              {"data": {"name": "box"}, "transform": [{"filter": "datum.g == 'B-InvSimpson'"}], "mark": {"type": "rule", "color": "#333", "strokeWidth": 1.6}, "encoding": {"x": {"field": "day", "type": "nominal"}, "y": {"field": "q3", "type": "quantitative"}, "y2": {"field": "upper"}}},
              {"data": {"name": "box"}, "transform": [{"filter": "datum.g == 'B-InvSimpson'"}], "mark": {"type": "bar", "width": 84, "fill": "#fff", "fillOpacity": 0.7, "stroke": "#333", "strokeWidth": 2}, "encoding": {"x": {"field": "day", "type": "nominal"}, "y": {"field": "q1", "type": "quantitative"}, "y2": {"field": "q3"}}},
              {"data": {"name": "box"}, "transform": [{"filter": "datum.g == 'B-InvSimpson'"}], "mark": {"type": "tick", "size": 84, "thickness": 3.5, "color": "#333", "opacity": 1}, "encoding": {"x": {"field": "day", "type": "nominal"}, "y": {"field": "median", "type": "quantitative"}}}
            ]}
          ], "spacing": 0}
        ],
        "spacing": 1
      }
    ],
    "spacing": 34,
    "title": {"text": "Alpha Diversity Measure", "orient": "left", "anchor": "middle", "fontSize": 44, "fontWeight": "normal", "offset": 20, "dx": -42}
  },
  {
    "width": 1513,
    "height": 1051,
    "title": {"text": "C", "anchor": "start", "frame": "group", "fontSize": 30, "fontWeight": "bold", "baseline": "alphabetic", "offset": -137, "dx": -122},
    "layer": [
      {"data": {"name": "pc"}, "transform": [{"filter": "datum.trt == 'Heat Stress'"}],
       "mark": {"type": "point", "filled": true, "size": 900, "opacity": 0.75, "strokeWidth": 0},
       "encoding": {
         "x": {"field": "x", "type": "quantitative", "scale": {"domain": [-0.0461, 0.0749], "range": [55, 1513], "nice": false, "zero": false},
               "axis": {"title": "Axis.1 [27.2%]", "values": [-0.025, 0, 0.025, 0.05], "labelExpr": "datum.value == 0.025 ? '0.02' : (datum.value == -0.025 ? '\u22120.02' : format(datum.value, '.2f'))", "labelFontSize": 32, "labelColor": "#000", "titleFontSize": 34, "tickSize": 8, "labelPadding": 6, "titlePadding": 4}},
         "y": {"field": "y", "type": "quantitative", "scale": {"domain": [-0.0579, 0.0686], "nice": false, "zero": false},
               "axis": {"title": "Axis.2 [15.5%]", "offset": -55, "values": [-0.03, 0, 0.03, 0.06], "format": ".2f", "labelFontSize": 32, "labelColor": "#000", "titleFontSize": 34, "tickSize": 8, "labelPadding": 6, "titlePadding": 18, "titleY": 442}},
         "color": {"field": "day", "type": "nominal", "scale": {"domain": ["0/6", "22", "34", "43"], "range": ["#E41A1C", "#377EB8", "#4DAF4A", "#984EA3"]},
                   "legend": {"title": "Day", "orient": "none", "legendX": 813, "legendY": -88, "direction": "horizontal", "titleOrient": "left", "symbolType": "circle", "symbolSize": 1764, "symbolOpacity": 0.75, "symbolStrokeWidth": 0, "labelFontSize": 31, "titleFontSize": 31, "labelOffset": 8, "columnPadding": 12, "titlePadding": 25, "padding": 0}},
         "shape": {"field": "trt", "type": "nominal", "scale": {"domain": ["Heat Stress", "Controls"], "range": ["circle", "triangle-up"]},
                   "legend": {"title": "Treatment", "orient": "none", "legendX": 233, "legendY": -88, "direction": "horizontal", "titleOrient": "left", "symbolSize": 1100, "symbolFillColor": "#444", "symbolStrokeColor": "#444", "symbolStrokeWidth": 0, "symbolOpacity": 1, "labelFontSize": 25, "titleFontSize": 31, "labelOffset": 13, "columnPadding": 21, "titlePadding": 33, "padding": 0, "labelExpr": "datum.label == 'Heat Stress' ? ['Heat', 'Stress'] : datum.label"}}
       }},
      {"data": {"name": "pc"}, "transform": [{"filter": "datum.trt == 'Controls'"}],
       "mark": {"type": "point", "filled": true, "size": 1500, "opacity": 0.75, "strokeWidth": 0},
       "encoding": {
         "x": {"field": "x", "type": "quantitative"},
         "y": {"field": "y", "type": "quantitative"},
         "color": {"field": "day", "type": "nominal"},
         "shape": {"field": "trt", "type": "nominal"}
       }},
      {"data": {"name": "pc"},
       "mark": {"type": "point", "filled": true, "size": 30, "opacity": 0.85, "strokeWidth": 0},
       "encoding": {
         "x": {"field": "x", "type": "quantitative"},
         "y": {"field": "y", "type": "quantitative"},
         "color": {"field": "day", "type": "nominal"},
         "shape": {"field": "trt", "type": "nominal"}
       }},
      {"data": {"name": "ell"},
       "mark": {"type": "line", "interpolate": "cardinal-closed", "strokeDash": [7, 5], "strokeWidth": 2},
       "encoding": {
         "x": {"field": "x", "type": "quantitative"},
         "y": {"field": "y", "type": "quantitative"},
         "stroke": {"field": "day", "type": "nominal", "scale": {"domain": ["0/6", "22", "34", "43"], "range": ["#E41A1C", "#377EB8", "#4DAF4A", "#984EA3"]}, "legend": null},
         "detail": {"field": "eid", "type": "nominal"},
         "order": {"field": "t", "type": "quantitative"}
       }}
    ]
  }
],
"columns": 1,
"align": "none",
"spacing": 56,
"resolve": {"scale": {"color": "independent", "shape": "independent"}, "legend": {"color": "independent", "shape": "independent"}}
}
